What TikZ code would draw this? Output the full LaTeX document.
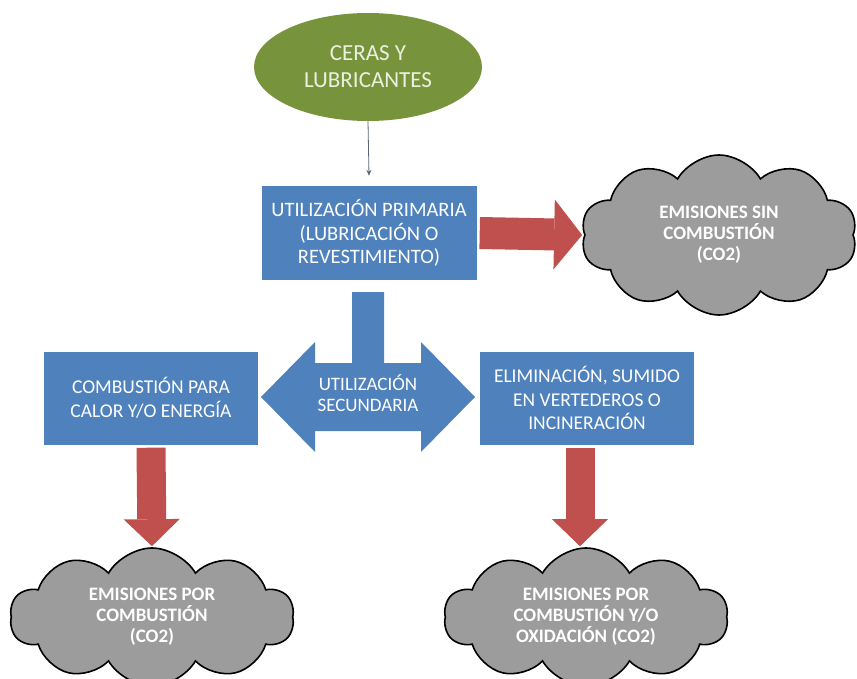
\documentclass[tikz,border=0pt]{standalone}
\usepackage{fontspec}
\setmainfont{Carlito}
\definecolor{boxblue}{HTML}{4F81BD}
\definecolor{flowred}{HTML}{C0504D}
\definecolor{olivegreen}{HTML}{77933C}
\definecolor{paletext}{HTML}{EBF1DE}
\definecolor{cloudgray}{HTML}{9C9C9C}
\usetikzlibrary{arrows.meta, shapes.geometric, shapes.symbols, calc}

\begin{document}
\begin{tikzpicture}[x=1pt, y=-1pt,
    usebox/.style={fill=boxblue, text=white, align=center,
      minimum width=214pt, minimum height=93pt, inner sep=2pt,
      font=\fontsize{19.5}{23.5}\selectfont},
    emission/.style={cloud, cloud puffs=10, cloud puff arc=120, aspect=2.1,
      draw=black, line width=1.6pt, fill=cloudgray, text=white, align=center,
      inner sep=0pt, font=\bfseries\fontsize{19}{21}\selectfont},
    fatarrow/.style={flowred, line width=31pt}]
      \useasboundingbox (0,0) rectangle (857,679);

      % Source
      \node[ellipse, fill=olivegreen, text=paletext, align=center,
            minimum width=228pt, minimum height=108pt,
            font=\fontsize{23}{27}\selectfont] (ceras) at (368,67) {CERAS Y\\LUBRICANTES};

      % Uses
      \node[usebox, minimum width=215pt, minimum height=94pt,
            font=\fontsize{20.5}{23.5}\selectfont] (primaria) at (369,233)
        {UTILIZACIÓN PRIMARIA\\(LUBRICACIÓN O\\REVESTIMIENTO)};
      \node[usebox] (combustion) at (151,398) {COMBUSTIÓN PARA\\CALOR Y/O ENERGÍA};
      \node[usebox] (eliminacion) at (587,398) {ELIMINACIÓN, SUMIDO\\EN VERTEDEROS O\\INCINERACIÓN};

      % Emissions
      \node[emission, minimum width=276pt, minimum height=160pt] (sincomb) at (719,235)
        {EMISIONES SIN\\COMBUSTIÓN\\(CO2)};
      \node[emission, minimum width=284pt, minimum height=138pt] (porcomb) at (152,617)
        {EMISIONES POR\\COMBUSTIÓN\\(CO2)};
      \node[emission, minimum width=284pt, minimum height=138pt] (oxidacion) at (586,617)
        {EMISIONES POR\\COMBUSTIÓN Y/O\\OXIDACIÓN (CO2)};

      % Secondary use (stem + double arrow)
      \coordinate (secmid) at (368,397);
      \begin{scope}[shift={(secmid)}]
        \fill[boxblue] (-16,-105) -- (16,-105) -- (16,-34) -- (53,-34) -- (53,-55)
          -- (107,0) -- (53,55) -- (53,34) -- (-53,34) -- (-53,55) -- (-107,0)
          -- (-53,-55) -- (-53,-34) -- (-16,-34) -- cycle;
      \end{scope}
      \node[text=white, align=center, font=\fontsize{19}{21}\selectfont, yshift=4pt]
        (secundaria) at (secmid) {UTILIZACIÓN\\SECUNDARIA};

      % Flows
      \draw[-{Stealth[length=6pt, width=5pt]}, gray!70!boxblue!80!black, line width=0.8pt]
        (ceras.south) -- ([yshift=10pt]primaria.north);
      \draw[fatarrow, line width=32pt, -{Triangle[length=28pt, width=70pt, line width=0pt]}]
        ([xshift=3pt]primaria.east) -- ([xshift=-2pt]sincomb.west);
      \draw[fatarrow, line width=29pt, -{Triangle[length=27pt, width=56pt, line width=0pt]}]
        ([yshift=-3pt]combustion.south) -- ([yshift=1pt]porcomb.north);
      \draw[fatarrow, line width=29pt, -{Triangle[length=27pt, width=56pt, line width=0pt]}]
        ([xshift=-7pt, yshift=-3pt]eliminacion.south) -- ([xshift=-6pt, yshift=1pt]oxidacion.north);
    \end{tikzpicture}
\end{document}
